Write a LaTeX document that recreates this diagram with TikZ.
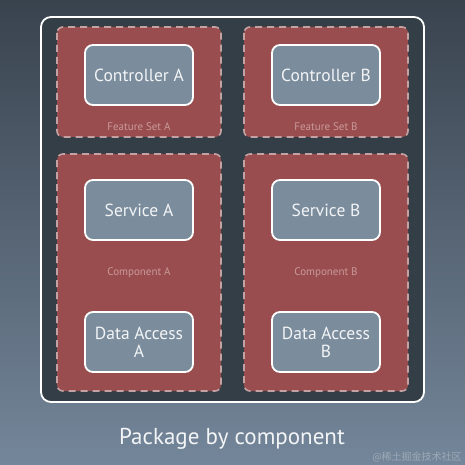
\documentclass[tikz,border=0pt]{standalone}
\usepackage{fontspec}
\setmainfont{PT Sans}
\newfontfamily\cjk{Noto Sans CJK SC}
\definecolor{bgtop}{HTML}{39434E}
\definecolor{bgbot}{HTML}{74869A}
\definecolor{outerfill}{HTML}{343E47}
\definecolor{redfill}{HTML}{9A4D4E}
\definecolor{dashcol}{HTML}{C4A2A4}
\definecolor{nodefill}{HTML}{7B8D9D}
\definecolor{lblcol}{HTML}{C9999A}
\definecolor{txtcol}{HTML}{F2F4F6}
\begin{document}
\begin{tikzpicture}[x=1pt,y=-1pt,
  groupbox/.style={fill=redfill,draw=dashcol,line width=1.6pt,dash pattern=on 7pt off 5pt,rounded corners=6pt},
  compbox/.style={fill=nodefill,draw=white,line width=1.8pt,rounded corners=8pt,minimum width=108pt,minimum height=60pt,text=txtcol,font=\fontsize{17.5}{18}\selectfont,align=center,inner sep=0pt},
  grouplbl/.style={text=lblcol,font=\fontsize{11}{12}\selectfont,inner sep=0pt}]
\useasboundingbox (0,0) rectangle (465,465);
\shade[top color=bgtop,bottom color=bgbot] (0,0) rectangle (465,465);
\draw[fill=outerfill,draw=white,line width=1.8pt,rounded corners=10pt] (41,17) rectangle (424,402);
\draw[groupbox] (57,27) rectangle (221,137);
\draw[groupbox] (244,27) rectangle (408,137);
\draw[groupbox] (57,154) rectangle (221,391);
\draw[groupbox] (244,154) rectangle (408,391);
\node[compbox] (ca) at (139,75) {Controller A};
\node[compbox] (cb) at (326,75) {Controller B};
\node[compbox] (sa) at (139,210) {Service A};
\node[compbox] (sb) at (326,210) {Service B};
\node[compbox] (da) at (139,342) {Data Access\\A};
\node[compbox] (db) at (326,342) {Data Access\\B};
\node[grouplbl] (fa) at (139,127) {Feature Set A};
\node[grouplbl] (fb) at (326,127) {Feature Set B};
\node[grouplbl] (cpa) at (139,273) {Component A};
\node[grouplbl] (cpb) at (326,273) {Component B};
\node[text=txtcol,font=\fontsize{23}{26}\selectfont,inner sep=0pt] (title) at (232,439) {Package by component};
\node[text=white,opacity=0.3,font=\cjk\fontsize{10}{11}\selectfont,inner sep=0pt] (wm) at (417,457) {@稀土掘金技术社区};
\end{tikzpicture}
\end{document}
